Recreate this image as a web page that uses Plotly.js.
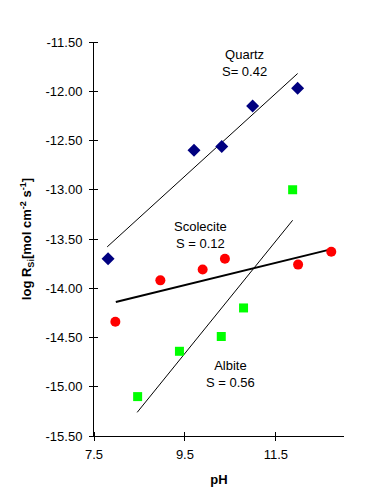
<!DOCTYPE html>
<html>
<head>
<meta charset="utf-8">
<script src="https://cdn.plot.ly/plotly-3.0.1.min.js"></script>
<style>html,body{margin:0;padding:0;background:#fff}#chart{width:373px;height:504px}</style>
</head>
<body>
<div id="chart"></div>
<script>
// Quartz
const quartzPH = [7.81, 9.70, 10.31, 10.99, 11.98];
const quartzR  = [-13.70, -12.60, -12.56, -12.15, -11.97];
const quartzFitPH = [7.79, 11.98];
const quartzFitR  = [-13.58, -11.82];
// Scolecite
const scolPH = [7.97, 8.96, 9.89, 10.38, 11.99, 12.72];
const scolR  = [-14.34, -13.92, -13.81, -13.70, -13.76, -13.63];
const scolFitPH = [7.98, 12.75];
const scolFitR  = [-14.14, -13.60];
// Albite
const albPH = [8.46, 9.38, 10.30, 10.79, 11.87];
const albR  = [-15.10, -14.64, -14.49, -14.20, -13.00];
const albFitPH = [8.45, 11.87];
const albFitR  = [-15.26, -13.31];
// Ticks
const xTickVals = [7.5, 9.5, 11.5];
const xTickText = ["7.5", "9.5", "11.5"];
const yTickVals = [-11.5, -12.0, -12.5, -13.0, -13.5, -14.0, -14.5, -15.0, -15.5];
const yTickText = ["-11.50", "-12.00", "-12.50", "-13.00", "-13.50", "-14.00", "-14.50", "-15.00", "-15.50"];

const font = {family: "Liberation Sans, Arial, sans-serif", size: 13, color: "#000"};

const traces = [
  {x: quartzFitPH, y: quartzFitR, mode: "lines", line: {color: "#000", width: 1}, hoverinfo: "skip"},
  {x: scolFitPH, y: scolFitR, mode: "lines", line: {color: "#000", width: 2}, hoverinfo: "skip"},
  {x: albFitPH, y: albFitR, mode: "lines", line: {color: "#000", width: 1}, hoverinfo: "skip"},
  {x: quartzPH, y: quartzR, mode: "markers", marker: {symbol: "diamond", size: 10, color: "#000080"}},
  {x: scolPH, y: scolR, mode: "markers", marker: {symbol: "circle", size: 10, color: "#ff0000"}},
  {x: albPH, y: albR, mode: "markers", marker: {symbol: "square", size: 9, color: "#00ff00"}}
];

const layout = {
  width: 373, height: 504,
  margin: {l: 94, r: 29, t: 42, b: 68},
  showlegend: false,
  paper_bgcolor: "#fff", plot_bgcolor: "#fff",
  font: font,
  xaxis: {
    range: [7.5, 13.0], showgrid: false, zeroline: false,
    showline: true, linecolor: "#000", linewidth: 1,
    ticks: "outside", ticklen: 4, tickcolor: "#000",
    tickvals: xTickVals, ticktext: xTickText, tickfont: font,
    ticklabelstandoff: 2,
    minor: {tickvals: xTickVals, ticks: "inside", ticklen: 4, tickcolor: "#000", showgrid: false},
    title: {text: "<b>pH</b>", font: font, standoff: 14}
  },
  yaxis: {
    range: [-15.5, -11.5], showgrid: false, zeroline: false,
    showline: true, linecolor: "#000", linewidth: 1,
    ticks: "outside", ticklen: 4, tickcolor: "#000",
    tickvals: yTickVals, ticktext: yTickText, tickfont: font,
    ticklabelstandoff: 4,
    minor: {tickvals: yTickVals, ticks: "inside", ticklen: 4, tickcolor: "#000", showgrid: false},
    title: {text: "<b>log R<sub>Si</sub>[mol cm<sup>-2</sup> s<sup>-1</sup>]</b>", font: font, standoff: 10}
  },
  annotations: [
    {x: 10.81, y: -11.71, text: "Quartz<br>S= 0.42", showarrow: false, font: font, align: "center"},
    {x: 9.84, y: -13.46, text: "Scolecite<br>S = 0.12", showarrow: false, font: font, align: "center"},
    {x: 10.50, y: -14.87, text: "Albite<br>S = 0.56", showarrow: false, font: font, align: "center"}
  ]
};

Plotly.newPlot("chart", traces, layout, {displayModeBar: false, staticPlot: true});
</script>
</body>
</html>
